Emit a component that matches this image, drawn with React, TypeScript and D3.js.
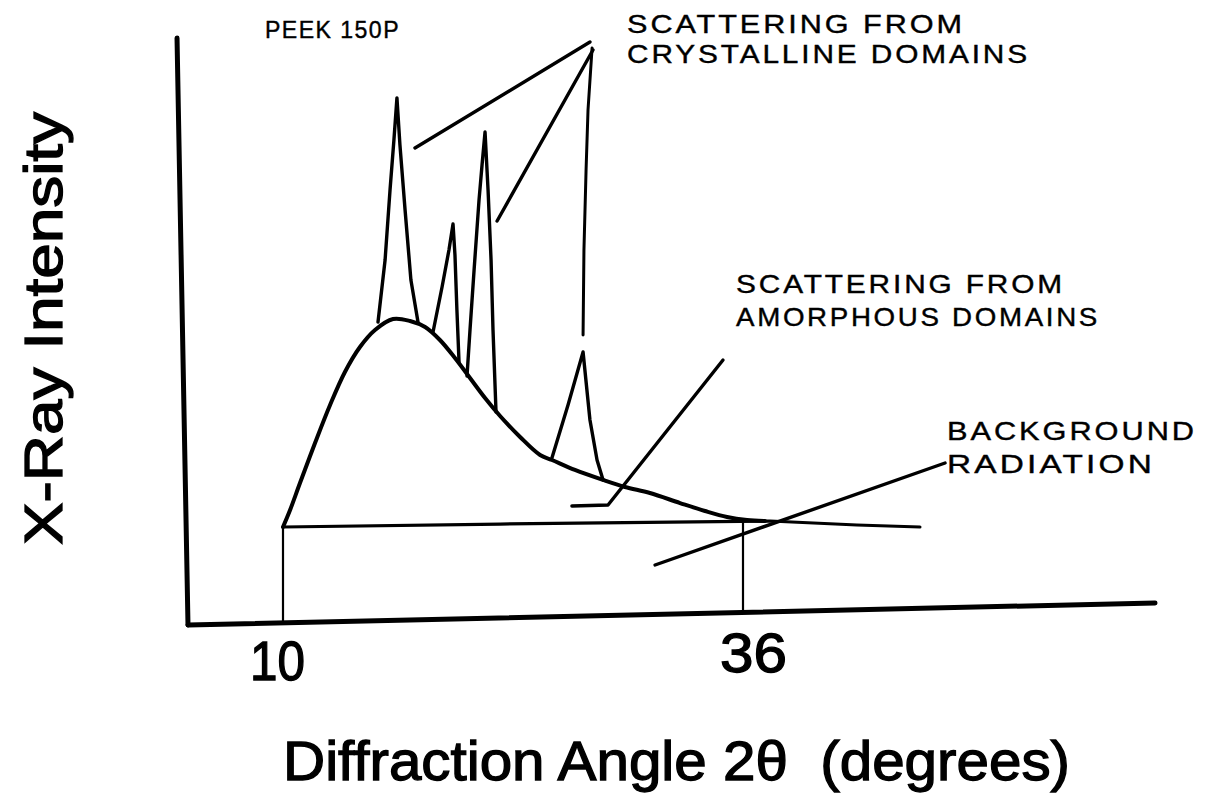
import { curveCatmullRom, curveLinear, line, scaleLinear } from "d3";

// every point is [2θ in degrees, intensity in arbitrary units]
type Pt = [number, number];

const tickLabels = [10, 36];

const amorphous: Pt[] = [
  [10.0, 16.75], [10.4, 19.66], [10.96, 24.27], [11.81, 31.11], [12.66, 37.61],
  [13.5, 43.25], [14.35, 47.52], [15.2, 50.43], [16.22, 52.31], [17.18, 51.97],
  [18.03, 50.94], [18.87, 48.72], [19.72, 45.64], [20.57, 42.22], [21.42, 38.8],
  [22.27, 35.73], [23.4, 32.14], [24.53, 29.06], [25.2, 28.21], [26.5, 26.5],
  [28.09, 24.79], [29.33, 23.59], [30.74, 22.56], [32.44, 20.85], [33.85, 19.49],
  [35.1, 18.46], [36.23, 17.95], [37.24, 17.78],
];

const peakA: Pt[] = [
  [15.37, 51.79], [15.77, 62.39], [16.05, 74.36], [16.27, 82.91], [16.44, 90.09],
  [16.61, 82.05], [16.9, 70.94], [17.23, 58.97], [17.63, 51.79],
];
const peakB: Pt[] = [
  [18.48, 50.09], [18.99, 57.78], [19.38, 64.1], [19.61, 68.55],
  [19.72, 63.25], [19.83, 53.85], [19.95, 44.96],
];
const peakC: Pt[] = [
  [20.4, 42.56], [20.57, 50.43], [20.8, 60.68], [21.08, 72.65], [21.25, 78.63],
  [21.42, 84.27], [21.59, 74.36], [21.76, 62.39], [21.87, 50.43], [22.04, 36.41],
];
const peakD: Pt[] = [
  [25.2, 28.55], [26.11, 37.61], [26.96, 46.67], [27.35, 35.04], [27.75, 28.21], [28.09, 24.79],
];
const peakDTop: Pt[] = [
  [26.96, 49.57], [27.01, 64.1], [27.13, 77.78], [27.24, 88.03], [27.47, 98.63],
];

const background: Pt[] = [
  [10.0, 16.75], [22.27, 17.26], [37.53, 17.78], [42.44, 17.09], [46.0, 16.75],
];

const dropLines = [
  { deg: 10, top: 16.75 },
  { deg: 36, top: 18.1 },
];

const yAxisLine: Pt[] = [[4.01, 100.34], [4.63, 0]];
const xAxisLine: Pt[] = [[4.63, 0], [59.29, 3.76]];

const leaderCrystal1: Pt[] = [[27.35, 99.66], [17.46, 81.54]];
const leaderCrystal2: Pt[] = [[27.52, 98.29], [22.1, 69.06]];
const leaderAmorph: Pt[] = [[34.87, 45.3], [28.37, 20.51], [26.33, 20.34]];
const leaderBackground: Pt[] = [[47.42, 27.69], [31.03, 10.26]];

const sampleName = "PEEK 150P";
const crystalLabel = ["SCATTERING FROM", "CRYSTALLINE DOMAINS"];
const amorphLabel = ["SCATTERING FROM", "AMORPHOUS DOMAINS"];
const backgroundLabel = ["BACKGROUND", "RADIATION"];

export default function App() {
  const width = 1220;
  const height = 793;
  const font = "'Liberation Sans', Arial, Helvetica, sans-serif";

  const x = scaleLinear().domain([10, 36]).range([283, 743]);
  const y = scaleLinear().domain([0, 100]).range([625, 40]);

  const smooth = line<Pt>()
    .x((d) => x(d[0]))
    .y((d) => y(d[1]))
    .curve(curveCatmullRom);
  const straight = line<Pt>()
    .x((d) => x(d[0]))
    .y((d) => y(d[1]))
    .curve(curveLinear);

  // the hand drawn x axis is slightly tilted, so drop lines end on it
  const axisAt = (deg: number) => {
    const [[x0, v0], [x1, v1]] = xAxisLine;
    return v0 + ((deg - x0) / (x1 - x0)) * (v1 - v0);
  };

  const ink = "#000";
  const labelProps = {
    fontSize: 26,
    letterSpacing: 2.5,
    lengthAdjust: "spacingAndGlyphs",
  } as const;

  return (
    <svg
      width={width}
      height={height}
      viewBox={`0 0 ${width} ${height}`}
      style={{ position: "absolute", left: 0, top: 0, background: "#fff" }}
      fontFamily={font}
    >
      <rect width={width} height={height} fill="#fff" />

      <g fill="none" stroke={ink} strokeLinejoin="round" strokeLinecap="round">
        <path d={straight(yAxisLine) ?? ""} strokeWidth={5} />
        <path d={straight(xAxisLine) ?? ""} strokeWidth={5} />

        {dropLines.map((d) => (
          <line
            key={`drop-${d.deg}`}
            x1={x(d.deg)}
            x2={x(d.deg)}
            y1={y(d.top)}
            y2={y(axisAt(d.deg))}
            strokeWidth={2.2}
          />
        ))}

        <path d={straight(background) ?? ""} strokeWidth={3.2} />
        <path d={smooth(amorphous) ?? ""} strokeWidth={4} />

        <path d={straight(peakA) ?? ""} strokeWidth={3.4} />
        <path d={straight(peakB) ?? ""} strokeWidth={3.4} />
        <path d={straight(peakC) ?? ""} strokeWidth={3.4} />
        <path d={straight(peakD) ?? ""} strokeWidth={3.4} />
        <path d={straight(peakDTop) ?? ""} strokeWidth={3} />

        <path d={straight(leaderCrystal1) ?? ""} strokeWidth={3.4} />
        <path d={straight(leaderCrystal2) ?? ""} strokeWidth={3.4} />
        <path d={straight(leaderAmorph) ?? ""} strokeWidth={3.4} />
        <path d={straight(leaderBackground) ?? ""} strokeWidth={3.4} />
      </g>

      <g fill={ink} stroke={ink} strokeWidth={0.4}>
        <text
          x={265}
          y={38}
          fontSize={24}
          letterSpacing={1.5}
          textLength={135}
          lengthAdjust="spacingAndGlyphs"
        >
          {sampleName}
        </text>

        {crystalLabel.map((t, i) => (
          <text
            key={`c-${i}`}
            x={627}
            y={33 + i * 30}
            textLength={i === 0 ? 338 : 403}
            {...labelProps}
          >
            {t}
          </text>
        ))}
        {amorphLabel.map((t, i) => (
          <text
            key={`a-${i}`}
            x={736}
            y={293 + i * 33}
            textLength={i === 0 ? 329 : 364}
            {...labelProps}
          >
            {t}
          </text>
        ))}
        {backgroundLabel.map((t, i) => (
          <text
            key={`b-${i}`}
            x={947}
            y={440 + i * 33}
            textLength={i === 0 ? 250 : 208}
            {...labelProps}
          >
            {t}
          </text>
        ))}
      </g>

      <g fill={ink} stroke={ink} strokeWidth={1.3}>
        {tickLabels.map((t, i) => (
          <text
            key={`tick-${t}`}
            x={i === 0 ? x(t) - 33 : x(t) - 23}
            y={i === 0 ? 680 : 672}
            fontSize={55}
            textLength={i === 0 ? 55 : 67}
            lengthAdjust="spacingAndGlyphs"
          >
            {t}
          </text>
        ))}

        <text
          x={283}
          y={780}
          fontSize={56}
          textLength={787}
          lengthAdjust="spacingAndGlyphs"
          xmlSpace="preserve"
        >
          {"Diffraction Angle 2\u03B8  (degrees)"}
        </text>

        <text
          transform="translate(62,545) rotate(-90)"
          fontSize={54}
          textLength={433}
          lengthAdjust="spacingAndGlyphs"
        >
          X-Ray Intensity
        </text>
      </g>
    </svg>
  );
}
